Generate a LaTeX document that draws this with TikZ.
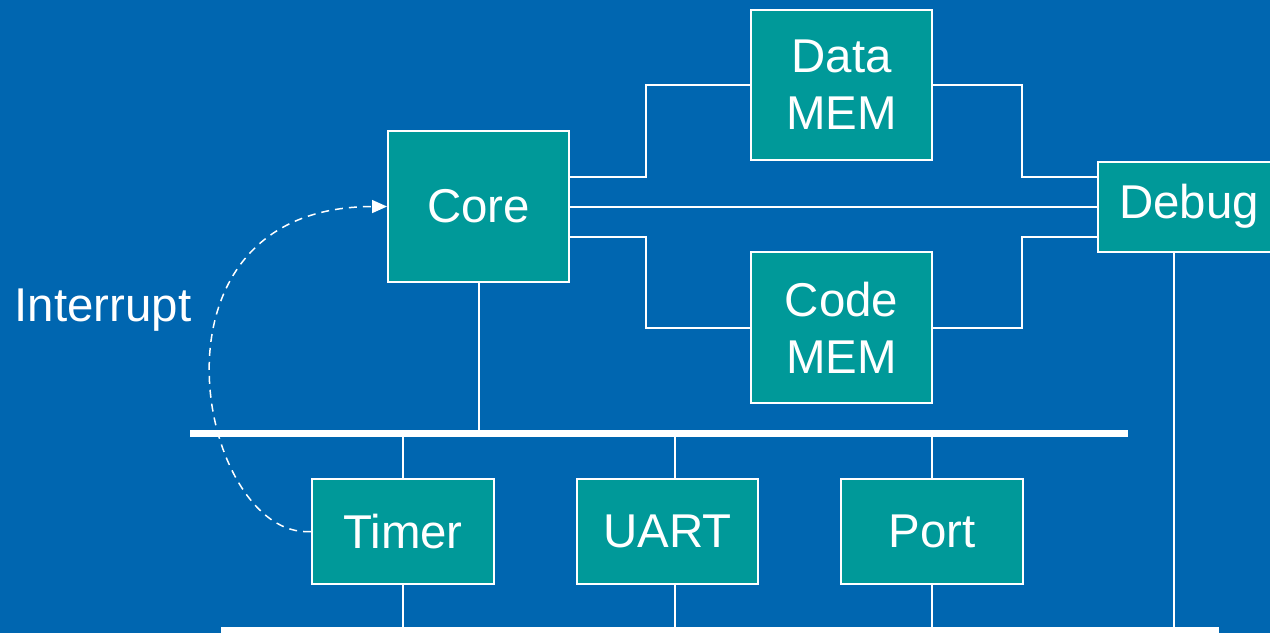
\documentclass[tikz,border=0pt]{standalone}
\usepackage{fontspec}
\setmainfont{Liberation Sans}
\usetikzlibrary{arrows.meta,calc}
\definecolor{bgblue}{RGB}{0,102,176}
\definecolor{boxteal}{RGB}{0,153,153}
\tikzset{
  unit/.style={draw=white, line width=0.04cm, fill=boxteal, text=white,
    minimum width=3.64cm, align=center,
    font=\fontsize{27}{32.5}\selectfont},
  wire/.style={white, line width=0.04cm},
  bus/.style={white, line width=0.14cm},
}
\begin{document}
\begin{tikzpicture}[x=0.02cm,y=-0.02cm]
\fill[bgblue] (0,0) rectangle (1270,633);
\useasboundingbox (0,0) rectangle (1270,633);
%%% the two buses
\coordinate (busA-l) at (190,433.5);
\coordinate (busA-r) at (1128,433.5);
\coordinate (busB-l) at (221,630);
\coordinate (busB-r) at (1219,630);
%%% core, memories and debug unit
\node[unit, minimum width=3.62cm, minimum height=3.02cm] (Core) at (478.5,206.5) {Core};
\node[unit, minimum height=3.0cm] (DataMEM) at (841.5,85) {Data\\MEM};
\node[unit, minimum height=3.02cm] (CodeMEM) at (841.5,327.5) {Code\\MEM};
\node[unit, minimum height=1.8cm] (Debug) at (1189,206.5) {Debug};
%%% peripherals
\node[unit, minimum height=2.1cm] (Timer) at (403,531.5) {Timer};
\node[unit, minimum height=2.1cm] (UART) at (667.5,531.5) {UART};
\node[unit, minimum height=2.1cm] (Port) at (932,531.5) {Port};
\node[text=white, font=\fontsize{27}{32.5}\selectfont] (intlabel) at (103,310) {Interrupt};
%%% core to memories to debug
\draw[wire] ([yshift=0.6cm]Core.east) -- ++(76,0) |- (DataMEM.west);
\draw[wire] (DataMEM.east) -- ++(89,0) |- ([yshift=0.6cm]Debug.west);
\draw[wire] (Core.east) -- (Debug.west);
\draw[wire] ([yshift=-0.6cm]Core.east) -- ++(76,0) |- (CodeMEM.west);
\draw[wire] (CodeMEM.east) -- ++(89,0) |- ([yshift=-0.6cm]Debug.west);
%%% bus taps
\draw[wire] (Core.south) -- (Core.south |- busA-l);
\draw[wire] (Timer.north) -- (Timer.north |- busA-l);
\draw[wire] ([xshift=0.15cm]UART.north) -- ([xshift=0.15cm]UART.north |- busA-l);
\draw[wire] (Port.north) -- (Port.north |- busA-l);
\draw[wire] (Timer.south) -- (Timer.south |- busB-l);
\draw[wire] ([xshift=0.15cm]UART.south) -- ([xshift=0.15cm]UART.south |- busB-l);
\draw[wire] (Port.south) -- (Port.south |- busB-l);
\draw[wire] ([xshift=-0.3cm]Debug.south) -- ([xshift=-0.3cm]Debug.south |- busB-l);
\draw[bus] (busA-l) -- (busA-r);
\draw[bus] (busB-l) -- (busB-r);
%%% interrupt request
\draw[white, line width=0.03cm, dash pattern=on 0.16cm off 0.12cm,
  -{Triangle[length=0.3cm,width=0.26cm]}]
  (Timer.west) .. controls (200,540) and (130,207) .. (Core.west);
\end{tikzpicture}
\end{document}
